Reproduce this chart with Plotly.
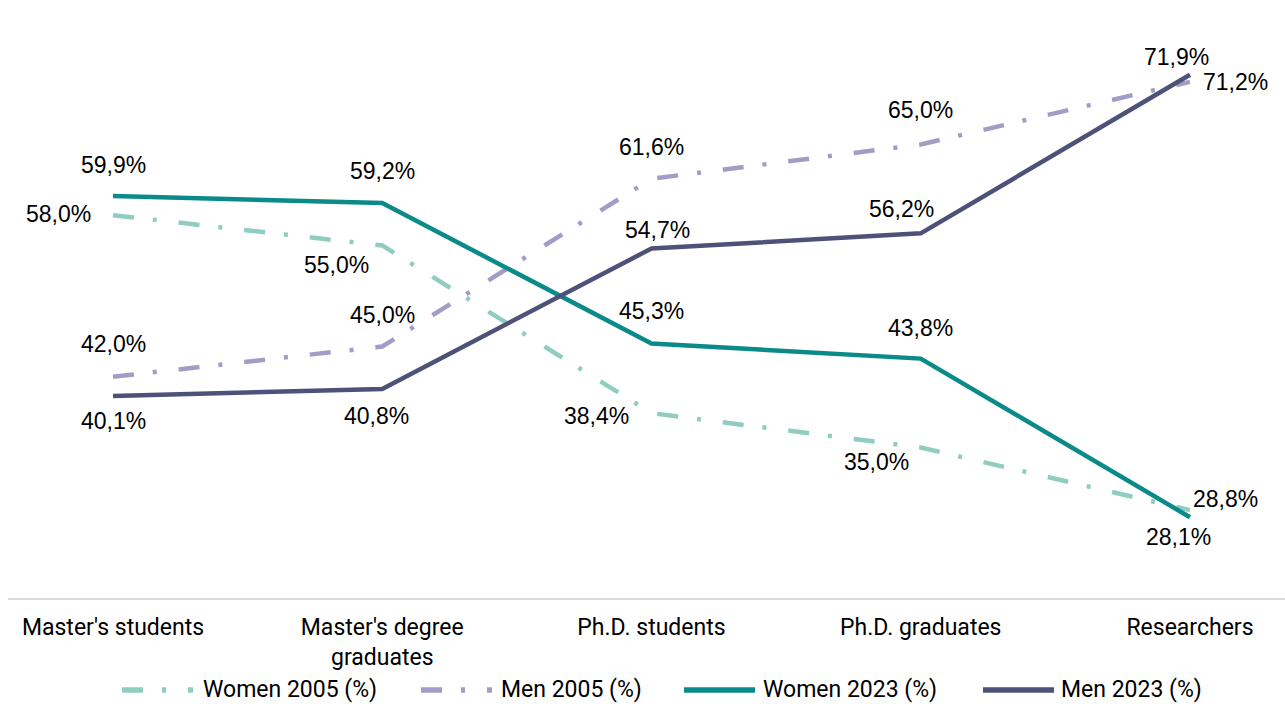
import plotly.graph_objects as go

# Share of women and men along the academic career path
categories = ["Master's students", "Master's degree<br>graduates", "Ph.D. students",
              "Ph.D. graduates", "Researchers"]
women_2005 = [58.0, 55.0, 38.4, 35.0, 28.8]
men_2005 = [42.0, 45.0, 61.6, 65.0, 71.2]
women_2023 = [59.9, 59.2, 45.3, 43.8, 28.1]
men_2023 = [40.1, 40.8, 54.7, 56.2, 71.9]

series_names = ["Women 2005 (%)", "Men 2005 (%)", "Women 2023 (%)", "Men 2023 (%)"]
series_values = [women_2005, men_2005, women_2023, men_2023]

# Styling
colors = ["#8ECDC0", "#A09EC6", "#0B8A8A", "#4E5279"]
dash_2005 = "21px,19px,4px,22px"
dashes = [dash_2005, dash_2005, "solid", "solid"]
line_w = 4.5

# Data label offsets (pixels) per series and point
label_shift = [
    [(-55, 1), (-46, -20), (-55, -3), (-44, -15), (36, 11)],
    [(0, 33), (0, 31), (0, 32), (0, 34), (46, 0)],
    [(0, 31), (0, 32), (0, 32), (0, 31), (-11, -20)],
    [(0, -25), (-6, -27), (6, 18), (-19, 24), (-13, 18)],
]

W, H = 1285, 704
ML, MR, MT, MB = 8, 0, 0, 106
plot_w = W - ML - MR
plot_h = H - MT - MB

label_font = dict(family="Liberation Sans, Arial, sans-serif", size=23, color="#000000")
text_font = dict(family="Roboto, sans-serif", size=23, color="#000000")


def fmt(v):
    return f"{v:.1f}".replace(".", ",") + "%"


def px_x(px):
    return (px - ML) / plot_w


def px_y(py):
    return (plot_h + MT - py) / plot_h


x_idx = list(range(len(categories)))
fig = go.Figure()

for name, vals, col, dsh in zip(series_names, series_values, colors, dashes):
    fig.add_trace(go.Scatter(
        x=x_idx, y=vals, mode="lines", name=name,
        line=dict(color=col, width=line_w, dash=dsh),
        showlegend=False, hoverinfo="skip",
    ))

annotations = []
for vals, shifts in zip(series_values, label_shift):
    for i, (v, (dx, dy)) in enumerate(zip(vals, shifts)):
        annotations.append(dict(
            x=i, y=v, xref="x", yref="y", text=fmt(v), showarrow=False,
            xshift=dx, yshift=dy, xanchor="center", yanchor="middle",
            font=label_font,
        ))

# Legend row below the axis
shapes = []
leg_y = 690
sym_start = [122, 421, 684, 983]
sym_len = 71
txt_start = [201, 499, 761, 1059]
for name, col, dsh, sx, tx in zip(series_names, colors, dashes, sym_start, txt_start):
    shapes.append(dict(
        type="line", xref="paper", yref="paper",
        x0=px_x(sx), x1=px_x(sx + sym_len), y0=px_y(leg_y), y1=px_y(leg_y),
        line=dict(color=col, width=line_w + 1, dash=dsh),
    ))
    annotations.append(dict(
        x=px_x(tx), y=px_y(leg_y), xref="paper", yref="paper", text=name,
        showarrow=False, xanchor="left", yanchor="middle",
        font=text_font,
    ))

fig.update_layout(
    width=W, height=H, autosize=False,
    margin=dict(l=ML, r=MR, t=MT, b=MB),
    paper_bgcolor="white", plot_bgcolor="white",
    annotations=annotations, shapes=shapes,
    showlegend=False,
)
fig.update_xaxes(
    range=[-0.39, 4.353], tickmode="array", tickvals=x_idx, ticktext=categories,
    showgrid=False, zeroline=False, showline=True, linecolor="#D9D9D9", linewidth=1.5,
    ticks="", ticklabelstandoff=8,
    tickfont=text_font,
)
fig.update_yaxes(
    range=[20.1, 79.3], showgrid=False, zeroline=False, showline=False,
    showticklabels=False, ticks="",
)

fig.write_html("out.html")
